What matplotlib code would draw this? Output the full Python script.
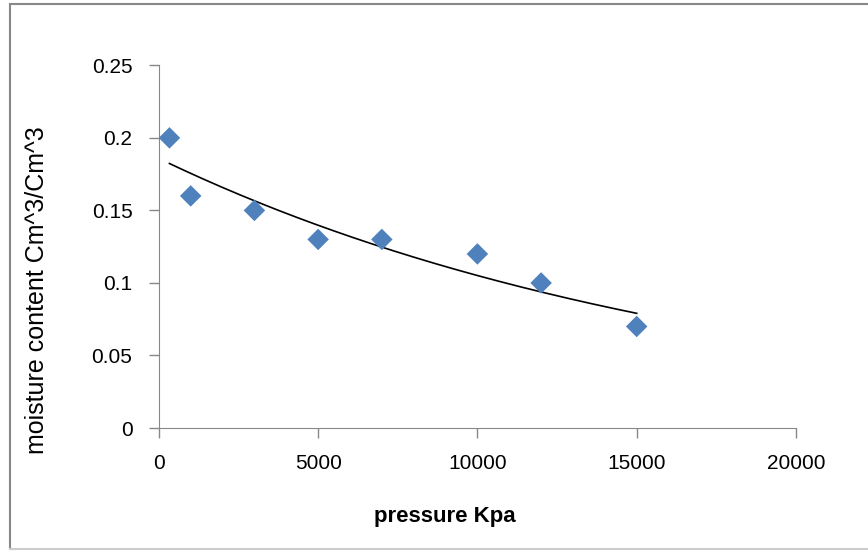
import numpy as np
import matplotlib.pyplot as plt
from matplotlib.lines import Line2D

plt.rcParams["font.family"] = ["Liberation Sans", "DejaVu Sans"]

pressure = [333, 1000, 3000, 5000, 7000, 10000, 12000, 15000]
moisture = [0.20, 0.16, 0.15, 0.13, 0.13, 0.12, 0.10, 0.07]

x_ticks = [0, 5000, 10000, 15000, 20000]
y_ticks = [0, 0.05, 0.1, 0.15, 0.2, 0.25]
y_labels = ["0", "0.05", "0.1", "0.15", "0.2", "0.25"]


def main():
    fig = plt.figure(figsize=(8.68, 5.52), dpi=100)
    ax = fig.add_axes([0.183, 0.2246, 0.734, 0.657])

    # exponential trendline, as Excel draws it
    b, a = np.polyfit(pressure, np.log(moisture), 1)
    xs = np.linspace(min(pressure), max(pressure), 200)
    ax.plot(xs, np.exp(a) * np.exp(b * xs), color="black", lw=1.2, zorder=2)

    ax.scatter(pressure, moisture, marker="D", s=120, color="#4F81BD",
               edgecolors="none", zorder=3)

    ax.set_xlim(0, 20000)
    ax.set_ylim(0, 0.25)
    ax.set_xticks(x_ticks)
    ax.set_yticks(y_ticks)
    ax.set_yticklabels(y_labels)
    ax.tick_params(direction="out", length=7, width=1, color="#888888",
                   labelsize=15)
    ax.tick_params(axis="y", pad=12)
    ax.tick_params(axis="x", pad=12)
    for side in ["top", "right"]:
        ax.spines[side].set_visible(False)
    for side in ["left", "bottom"]:
        ax.spines[side].set_color("#888888")

    ax.set_xlabel("pressure Kpa", fontsize=16, fontweight="bold")
    ax.xaxis.set_label_coords(0.449, -0.215)
    ax.set_ylabel("moisture content Cm^3/Cm^3", fontsize=18)
    ax.yaxis.set_label_coords(-0.172, 0.38)

    # chart frame
    c = "#888888"
    fig.add_artist(Line2D([0.011, 1.0], [0.993, 0.993], color=c, lw=1.5))
    fig.add_artist(Line2D([0.011, 0.011], [0.006, 0.993], color=c, lw=1.5))
    fig.add_artist(Line2D([0.011, 1.0], [0.006, 0.006], color="#cccccc", lw=1.5))

    fig.savefig("out.png", dpi=100)


if __name__ == "__main__":
    main()
